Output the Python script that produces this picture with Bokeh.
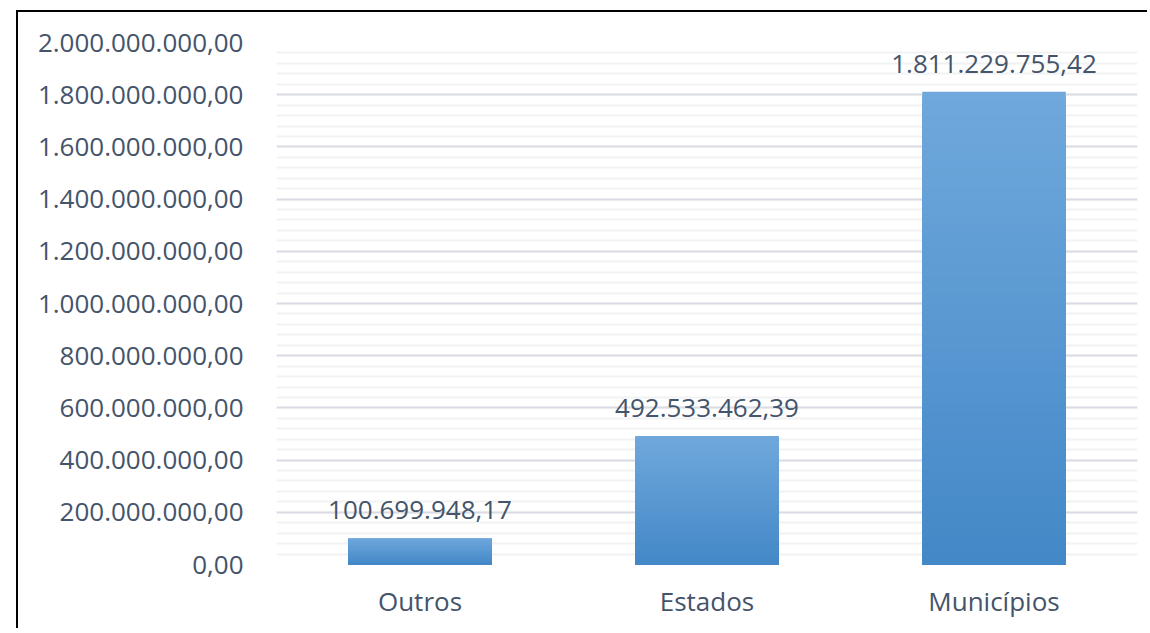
from bokeh.plotting import figure
from bokeh.models import ColumnDataSource, FixedTicker
from bokeh.core.properties import value
from bokeh.embed import file_html
from bokeh.resources import INLINE

categories = ["Outros", "Estados", "Municípios"]
values = [100699948.17, 492533462.39, 1811229755.42]
value_labels = ["100.699.948,17", "492.533.462,39", "1.811.229.755,42"]
y_ticks = [0, 200e6, 400e6, 600e6, 800e6, 1000e6, 1200e6, 1400e6, 1600e6, 1800e6, 2000e6]
y_tick_labels = ["0,00", "200.000.000,00", "400.000.000,00", "600.000.000,00",
                 "800.000.000,00", "1.000.000.000,00", "1.200.000.000,00",
                 "1.400.000.000,00", "1.600.000.000,00", "1.800.000.000,00",
                 "2.000.000.000,00"]
minor_ticks = [i * 40e6 for i in range(51)]

FONT = "Open Sans"
TXT = "#44546a"

p = figure(x_range=categories, y_range=(0, 2000e6), output_backend="svg",
           toolbar_location=None,
           frame_width=861, frame_height=522,
           min_border_left=258, min_border_right=12, min_border_top=30, min_border_bottom=66)
p.outline_line_color = None
p.background_fill_color = "white"
p.border_fill_color = "white"
p.styles = {"margin-left": "18px", "margin-top": "12px",
            "box-shadow": "-2px -2px 0px 0px black"}

# gradient bars: overlapping columns from the base, tallest (lightest) first
N = 120
top_c = (112, 168, 220)
bot_c = (67, 136, 199)
xs, tops, cols = [], [], []
for c, v in zip(categories, values):
    for k in range(N - 1, -1, -1):
        t = (k + 0.5) / N
        r = int(round(bot_c[0] + (top_c[0] - bot_c[0]) * t))
        g = int(round(bot_c[1] + (top_c[1] - bot_c[1]) * t))
        b = int(round(bot_c[2] + (top_c[2] - bot_c[2]) * t))
        xs.append(c)
        tops.append(v * (k + 1) / N)
        cols.append("#%02x%02x%02x" % (r, g, b))
src = ColumnDataSource(dict(x=xs, top=tops, color=cols))
p.vbar(x="x", bottom=0, top="top", width=0.5, source=src,
       fill_color="color", line_color=None)

lsrc = ColumnDataSource(dict(x=categories, y=values, t=value_labels))
p.text(x="x", y="y", text="t", source=lsrc, text_align="center",
       text_baseline="alphabetic", y_offset=-28, text_font=value(FONT),
       text_font_size="26px", text_color=TXT)

# axes
p.yaxis.ticker = FixedTicker(ticks=y_ticks, minor_ticks=minor_ticks)
p.yaxis.major_label_overrides = {t: l for t, l in zip(y_ticks, y_tick_labels)}
for ax in (p.xaxis[0], p.yaxis[0]):
    ax.axis_line_color = None
    ax.major_tick_line_color = None
    ax.minor_tick_line_color = None
    ax.major_label_text_font = FONT
    ax.major_label_text_font_size = "26px"
    ax.major_label_text_color = TXT
p.yaxis.major_label_standoff = 27
p.xaxis.major_label_standoff = 12

p.xgrid.grid_line_color = None
p.ygrid.grid_line_color = "#d9dde3"
p.ygrid.grid_line_width = 2
p.ygrid.minor_grid_line_color = "#f1f2f4"
p.ygrid.minor_grid_line_width = 2
p.ygrid.level = "underlay"

open("out.html", "w").write(file_html(p, INLINE))
